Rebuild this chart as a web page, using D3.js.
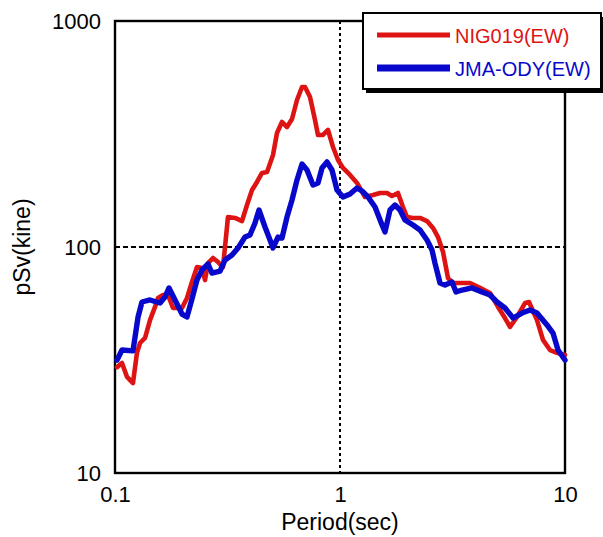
<!DOCTYPE html>
<html>
<head>
<meta charset="utf-8">
<script src="https://cdn.jsdelivr.net/npm/d3@7"></script>
<style>
  html, body { margin: 0; padding: 0; background: #ffffff; }
  svg { display: block; font-family: "Liberation Sans", Arial, sans-serif; }
</style>
</head>
<body>
<svg id="chart" width="603" height="537"></svg>
<script>
// Pseudo-velocity response spectra, EW components
const seriesNames = ["NIG019(EW)", "JMA-ODY(EW)"];
const seriesColors = ["#de1414", "#0808cc"];

const nigPeriod = [0.1021, 0.1074, 0.1131, 0.1202, 0.1252, 0.1292, 0.1360, 0.1431, 0.1506, 0.1553,
  0.1634, 0.1720, 0.1810, 0.1985, 0.2089, 0.2198, 0.2314, 0.2436, 0.2512, 0.2590,
  0.2726, 0.2870, 0.3020, 0.3178, 0.3415, 0.3668, 0.3861, 0.4064, 0.4277, 0.4502,
  0.4739, 0.5038, 0.5248, 0.5523, 0.5813, 0.6119, 0.6441, 0.6779, 0.6990, 0.7357,
  0.7743, 0.7983, 0.8402, 0.8844, 0.9309, 0.9797, 1.031, 1.108, 1.190, 1.292,
  1.402, 1.506, 1.618, 1.702, 1.810, 1.905, 1.985, 2.110, 2.268, 2.436,
  2.590, 2.726, 2.870, 3.020, 3.178, 3.782, 4.190, 4.642, 5.038, 5.412,
  5.696, 6.119, 6.641, 6.918, 7.509, 7.983, 8.577, 9.213, 10.0];
const nigPsv = [29.4, 30.7, 26.6, 25.0, 34.0, 37.6, 39.6, 47.5, 54.3, 59.5,
  61.3, 61.3, 53.7, 53.7, 59.5, 70.0, 81.5, 80.7, 71.4, 84.9,
  89.4, 85.8, 81.5, 135.7, 134.4, 130.3, 153.4, 178.7, 194.0, 212.6,
  214.7, 255.4, 319.5, 357.4, 339.6, 368.5, 447.2, 510.5, 510.5, 460.9,
  364.7, 313.1, 313.1, 329.4, 277.0, 242.7, 223.7, 208.3, 192.0, 166.4,
  169.9, 173.4, 173.4, 168.1, 173.4, 150.3, 135.7, 134.4, 134.4, 130.3,
  121.4, 110.7, 95.0, 72.9, 69.3, 69.3, 65.9, 62.6, 54.3, 48.5,
  44.3, 49.0, 56.5, 57.1, 47.5, 38.8, 35.0, 34.0, 33.3];

const jmaPeriod = [0.1021, 0.1074, 0.1202, 0.1266, 0.1318, 0.1431, 0.1585, 0.1668, 0.1738, 0.1848,
  0.1985, 0.2089, 0.2198, 0.2314, 0.2436, 0.2590, 0.2698, 0.2929, 0.3083, 0.3311,
  0.3522, 0.3783, 0.3981, 0.4190, 0.4365, 0.4642, 0.4886, 0.5038, 0.5302, 0.5523,
  0.5813, 0.6119, 0.6441, 0.6779, 0.7135, 0.7586, 0.7983, 0.8318, 0.8755, 0.9213,
  0.9698, 1.031, 1.108, 1.190, 1.253, 1.332, 1.431, 1.538, 1.585, 1.668,
  1.756, 1.848, 1.945, 2.110, 2.268, 2.436, 2.564, 2.643, 2.783, 2.929,
  3.146, 3.278, 3.484, 3.861, 4.277, 4.642, 4.987, 5.412, 5.873, 6.441,
  6.990, 7.509, 8.318, 8.844, 9.309, 10.0];
const jmaPsv = [31.6, 35.0, 34.7, 49.0, 57.1, 58.3, 56.5, 60.1, 65.9, 58.3,
  50.5, 49.0, 58.9, 71.4, 79.1, 84.1, 76.7, 78.3, 87.6, 92.2,
  99.0, 110.7, 113.0, 127.7, 145.8, 122.6, 107.4, 99.0, 110.7, 109.6,
  135.7, 161.4, 198.0, 232.9, 219.1, 188.1, 192.0, 223.7, 237.8, 219.1,
  178.7, 166.4, 171.6, 182.4, 176.9, 166.4, 150.3, 125.1, 116.5, 145.8,
  153.4, 145.8, 131.7, 125.1, 118.9, 107.4, 97.0, 84.9, 69.3, 67.9,
  70.0, 63.2, 64.5, 65.9, 63.2, 61.3, 57.1, 53.7, 48.5, 51.0,
  52.6, 51.0, 45.2, 41.6, 35.0, 31.6];

const xTickValues = [0.1, 1, 10];
const xTickLabels = ["0.1", "1", "10"];
const yTickValues = [10, 100, 1000];
const yTickLabels = ["10", "100", "1000"];
const xTitle = "Period(sec)";
const yTitle = "pSv(kine)";

const svg = d3.select("#chart");
const plot = { left: 115, top: 21, right: 565, bottom: 473 };

const x = d3.scaleLog().domain([0.1, 10]).range([plot.left, plot.right]);
const y = d3.scaleLog().domain([10, 1000]).range([plot.bottom, plot.top]);

// Grid lines at the middle decade
svg.append("line")
  .attr("x1", x(1)).attr("x2", x(1))
  .attr("y1", plot.top).attr("y2", plot.bottom)
  .attr("stroke", "#000").attr("stroke-width", 2)
  .attr("stroke-dasharray", "3,3");
svg.append("line")
  .attr("x1", plot.left).attr("x2", plot.right)
  .attr("y1", y(100)).attr("y2", y(100))
  .attr("stroke", "#000").attr("stroke-width", 2)
  .attr("stroke-dasharray", "5,3");

// Plot frame
svg.append("rect")
  .attr("x", plot.left).attr("y", plot.top)
  .attr("width", plot.right - plot.left).attr("height", plot.bottom - plot.top)
  .attr("fill", "none").attr("stroke", "#000").attr("stroke-width", 2.4);

// Axes (labels only, ticks drawn as frame/grid)
const xAxis = d3.axisBottom(x).tickValues(xTickValues)
  .tickFormat((d, i) => xTickLabels[i]).tickSize(0).tickPadding(0);
const gx = svg.append("g").attr("transform", `translate(0,${plot.bottom})`).call(xAxis);
gx.select(".domain").remove();
gx.selectAll("text").attr("font-size", 22).attr("fill", "#000")
  .attr("font-family", "Liberation Sans, Arial, sans-serif")
  .attr("dy", null).attr("y", 29);

const yAxis = d3.axisLeft(y).tickValues(yTickValues)
  .tickFormat((d, i) => yTickLabels[i]).tickSize(0).tickPadding(0);
const gy = svg.append("g").attr("transform", `translate(${plot.left},0)`).call(yAxis);
gy.select(".domain").remove();
gy.selectAll("text").attr("font-size", 22).attr("fill", "#000")
  .attr("font-family", "Liberation Sans, Arial, sans-serif")
  .attr("x", -14).attr("dy", "0.34em");

// Axis titles
svg.append("text")
  .attr("x", x(1)).attr("y", 530)
  .attr("text-anchor", "middle").attr("font-size", 23).attr("fill", "#000")
  .text(xTitle);
svg.append("text")
  .attr("transform", `translate(30,${y(100)}) rotate(-90)`)
  .attr("text-anchor", "middle").attr("font-size", 23).attr("fill", "#000")
  .text(yTitle);

// Spectra
const line = d3.line().x(d => x(d[0])).y(d => y(d[1])).curve(d3.curveLinear);
const nigData = d3.zip(nigPeriod, nigPsv);
const jmaData = d3.zip(jmaPeriod, jmaPsv);

svg.append("path").datum(nigData)
  .attr("d", line).attr("fill", "none")
  .attr("stroke", seriesColors[0]).attr("stroke-width", 4.6)
  .attr("stroke-linejoin", "round").attr("stroke-linecap", "round");
svg.append("path").datum(jmaData)
  .attr("d", line).attr("fill", "none")
  .attr("stroke", seriesColors[1]).attr("stroke-width", 5.4)
  .attr("stroke-linejoin", "round").attr("stroke-linecap", "round");

// Legend box with drop shadow
const lg = svg.append("g").attr("transform", "translate(363,13)");
lg.append("rect").attr("x", 3).attr("y", 4).attr("width", 238).attr("height", 76).attr("fill", "#000");
lg.append("rect").attr("x", 0).attr("y", 0).attr("width", 238).attr("height", 76)
  .attr("fill", "#fff").attr("stroke", "#000").attr("stroke-width", 2);
const legendRows = [
  { name: seriesNames[0], color: seriesColors[0], width: 5, y: 22, base: 30 },
  { name: seriesNames[1], color: seriesColors[1], width: 7, y: 55, base: 63 }
];
legendRows.forEach(r => {
  lg.append("line").attr("x1", 14).attr("x2", 87).attr("y1", r.y).attr("y2", r.y)
    .attr("stroke", r.color).attr("stroke-width", r.width);
  lg.append("text").attr("x", 92).attr("y", r.base)
    .attr("font-size", 20).attr("fill", r.color).text(r.name);
});
</script>
</body>
</html>
